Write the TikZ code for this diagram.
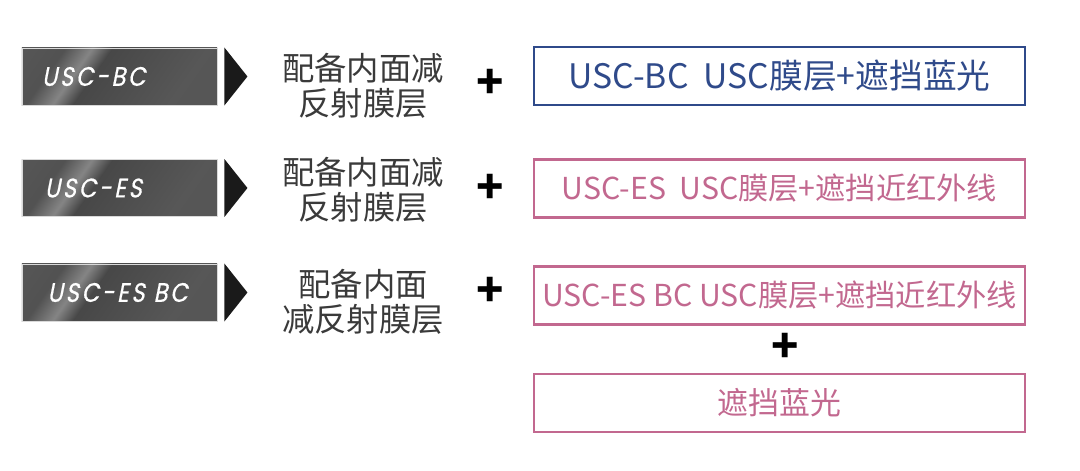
\documentclass[tikz,border=0pt]{standalone}
\usepackage{fontspec}
\setmainfont{Noto Sans CJK SC}
\newfontfamily\tagfont[LetterSpace=10,FakeSlant=0.2,FakeBold=0.6,FakeStretch=0.85]{Poppins}
\usetikzlibrary{calc}
\definecolor{uscBlue}{HTML}{2F4A8A}
\definecolor{uscRose}{HTML}{C2688F}
\definecolor{uscInk}{HTML}{3A3A3A}
\definecolor{uscTri}{HTML}{1A1A1A}
\pgfdeclarehorizontalshading{steel}{100bp}{color(0bp)=(black!64); color(28bp)=(black!68);
  color(36bp)=(black!48); color(42bp)=(black!72); color(70bp)=(black!66); color(100bp)=(black!67)}

\begin{document}
\begin{tikzpicture}[x=0.025cm,y=-0.025cm,
    tagbox/.style={shading=steel,shading angle=-35,draw=black!15,line width=0.6pt,
                   minimum width=4.875cm,minimum height=1.425cm,inner xsep=0.5cm,
                   text width=3.875cm,align=left,text=white,
                   font=\tagfont\fontsize{19}{21}\selectfont},
    coat/.style={font=\fontsize{23}{25}\selectfont,text=uscInk,align=center},
    plus/.style={font=\bfseries\fontsize{32}{32}\selectfont,text=black},
    film/.style={draw=#1,text=#1,line width=1.5pt,minimum width=12.275cm,
                 minimum height=1.45cm,inner sep=0pt,
                 font=\fontsize{22}{24}\selectfont}]
  \useasboundingbox (0,0) rectangle (1080,471);

  % model tags
  \node[tagbox] (tag1) at (119.5,76.5) {USC-BC};
  \node[tagbox] (tag2) at (119.5,188) {\hspace*{2pt}USC-ES};
  \node[tagbox] (tag3) at (119.5,292.5) {\hspace*{4pt}USC-ES BC};
  \foreach \t in {tag1,tag2,tag3}
    \fill[uscTri] ($(\t.north east)+(7,0)$) -- ($(\t.south east)+(7,0)$)
                  -- ($(\t.east)+(30,0)$) -- cycle;

  % coating
  \node[coat] (ar1) at (363,85.5) {配备内面减\\反射膜层};
  \node[coat] (ar2) at (363,190) {配备内面减\\反射膜层};
  \node[coat] (ar3) at (363,302) {配备内面\\减反射膜层};

  \node[plus] (p1) at (490,84) {+};
  \node[plus] (p2) at (490,189) {+};
  \node[plus] (p3) at (490,292) {+};

  % films
  \node[film=uscBlue,font=\fontsize{24}{26}\selectfont] (f1) at (779.5,76)
    {USC-BC\ \ USC膜层+遮挡蓝光};
  \node[film=uscRose,font=\fontsize{21.5}{24}\selectfont] (f2) at (779.5,188.5)
    {USC-ES\ \ USC膜层+遮挡近红外线};
  \node[film=uscRose,font=\fontsize{21.5}{24}\selectfont] (f3) at (779.5,295.5)
    {USC-ES BC USC膜层+遮挡近红外线};
  \node[plus] (p4) at (785,348) {+};
  \node[film=uscRose] (f4) at (779.5,403) {遮挡蓝光};
\end{tikzpicture}
\end{document}
